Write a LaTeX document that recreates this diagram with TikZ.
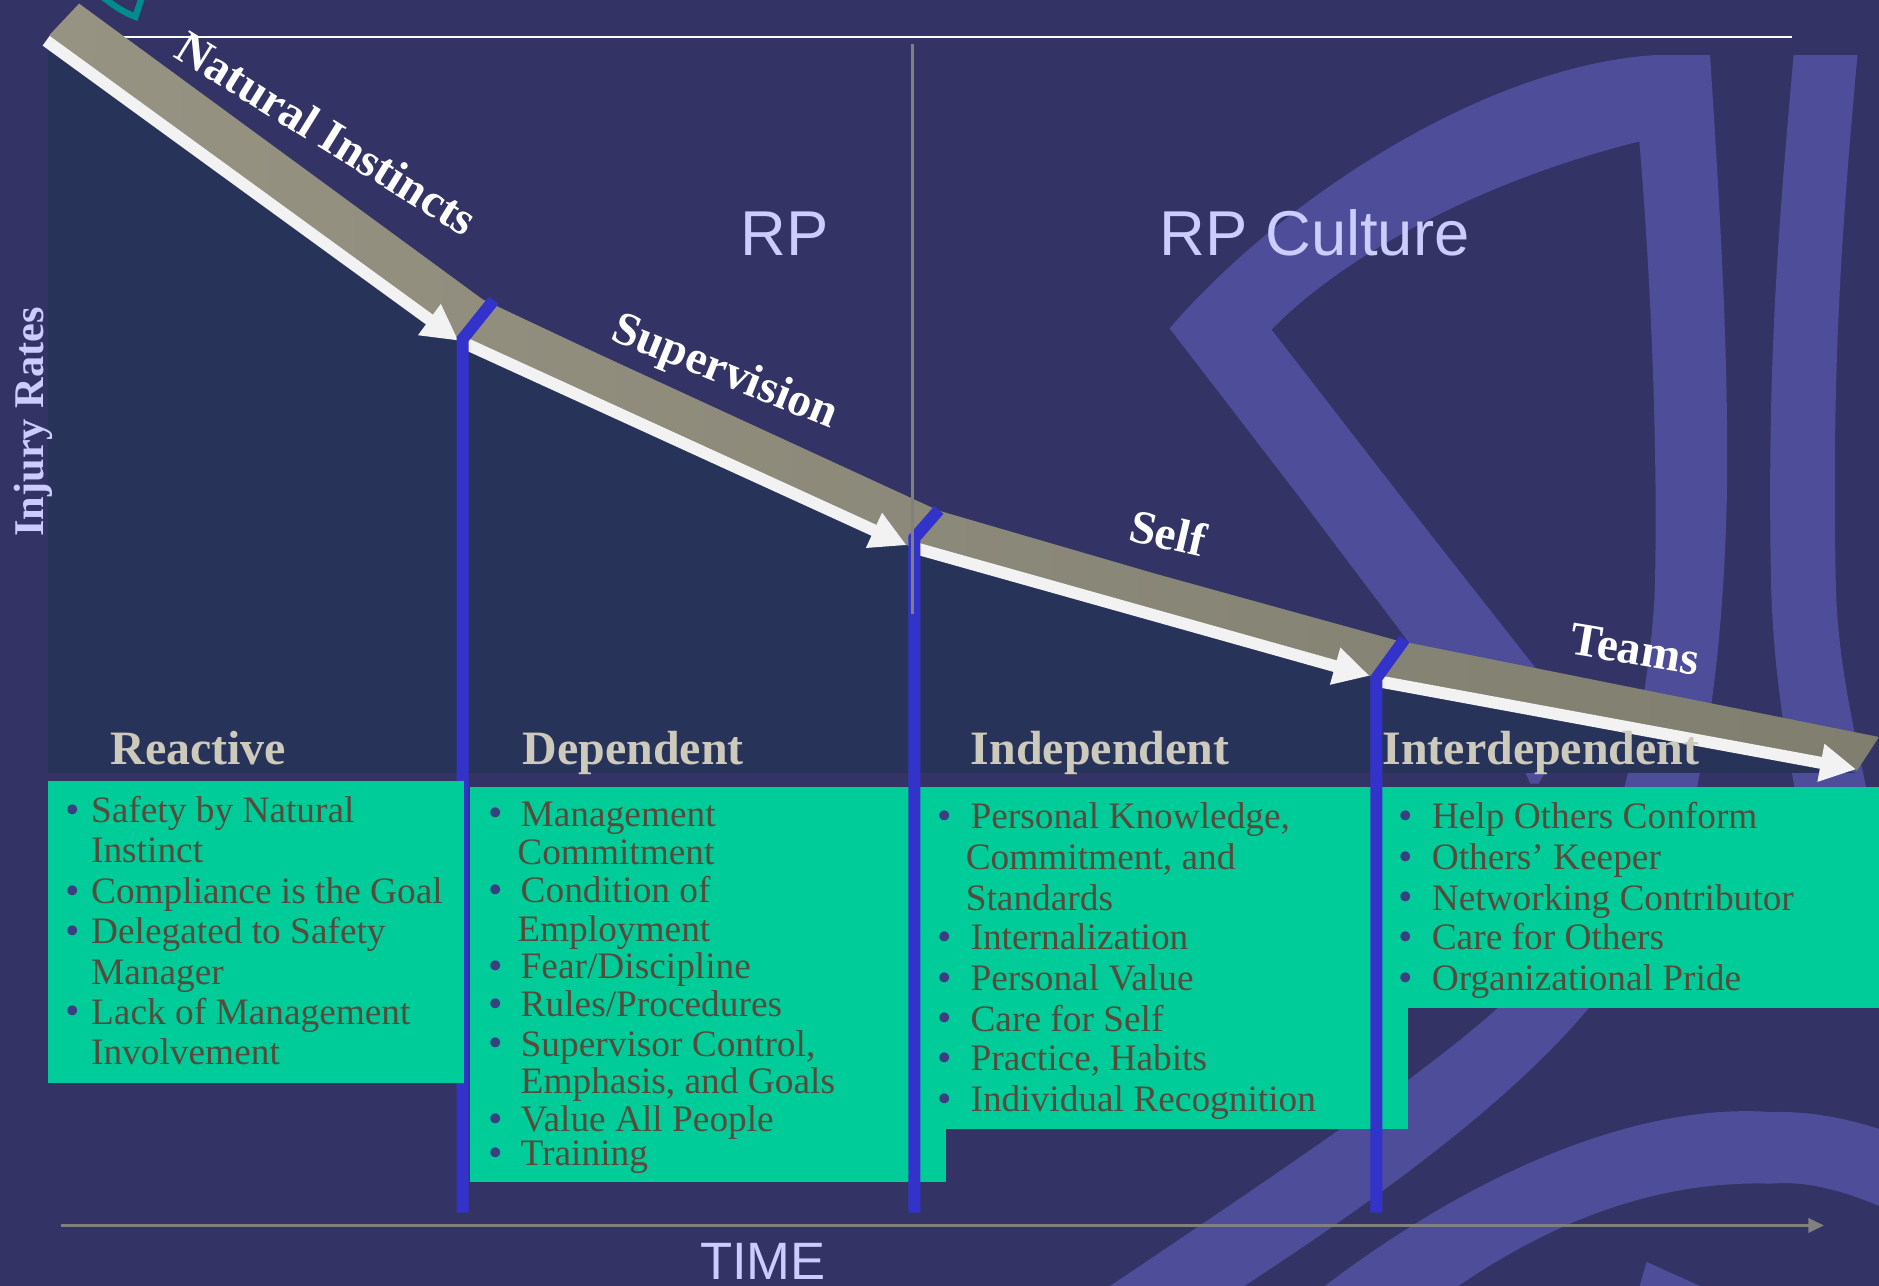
\documentclass[tikz,border=0pt]{standalone}
\usepackage{fontspec}
\setmainfont{Liberation Serif}
\newfontfamily\sansf{Liberation Sans}
\usetikzlibrary{arrows.meta}
\definecolor{bgc}{HTML}{333366}
\definecolor{decoc}{HTML}{4D4D99}
\definecolor{navyc}{HTML}{28335A}
\definecolor{tealbox}{HTML}{00CC99}
\definecolor{bluec}{HTML}{3333CC}
\definecolor{whitec}{HTML}{F2F2F2}
\definecolor{grayc}{HTML}{808080}
\definecolor{headc}{HTML}{CDCABB}
\definecolor{bodyc}{HTML}{574B3C}
\definecolor{bulc}{HTML}{3A3F82}
\definecolor{lilac}{HTML}{CCCCFF}
\definecolor{vee}{HTML}{008C8C}
\definecolor{bandL}{HTML}{979383}
\definecolor{bandR}{HTML}{7F7E6F}
\newcounter{tn}
\tikzset{
  deco/.style={fill=decoc},
  greenbox/.style={fill=tealbox},
  bodytext/.style={anchor=base west,inner sep=0pt,text=bodyc,font=\fontsize{28.05}{30}\selectfont},
  bullettext/.style={anchor=base,inner sep=0pt,text=bulc,font=\fontsize{31}{33}\selectfont},
  headtext/.style={anchor=base west,inner sep=0pt,text=headc,font=\fontsize{36}{40}\selectfont\bfseries},
  slopetext/.style={anchor=base west,inner sep=0pt,text=white,font=\fontsize{35.5}{40}\selectfont\bfseries},
  bigsans/.style={anchor=base west,inner sep=0pt,text=lilac,font=\fontsize{47.6}{50}\selectfont\sansf},
  slope/.style={draw=whitec,line width=9pt,-{Triangle[length=27pt,width=27pt]}},
  riser/.style={draw=bluec,line width=9pt,line join=miter},
}
\newcommand{\bodyline}[3]{\stepcounter{tn}\node[bodytext] (t\thetn) at (#1,#2+0.5) {#3};}
\newcommand{\bulline}[4]{\stepcounter{tn}\node[bullettext] (b\thetn) at (#1,#3+1) {•};\node[bodytext] (t\thetn) at (#2,#3+0.5) {#4};}
\begin{document}
\begin{tikzpicture}[x=0.9pt,y=-0.9pt]
\path[use as bounding box,clip] (0,0) rectangle (1568,1073.1);
\fill[bgc] (0,0) rectangle (1568,1073.1);
% background emblem
\fill[deco] (1380.6,46) .. controls (1240,55) and (1070,165) .. (976,274)
  -- (1086,417) -- (1190,555) -- (1285,562) -- (1171,417) -- (1061,275)
  .. controls (1125,210) and (1240,150) .. (1368,118)
  .. controls (1375,200) and (1384,350) .. (1381,490)
  .. controls (1378,560) and (1365,620) .. (1350,680)
  -- (1411,680)
  .. controls (1425,620) and (1438,540) .. (1441,417)
  .. controls (1443,300) and (1435,170) .. (1427,46)
  -- cycle;
\fill[deco] (1273,645) -- (1289,645) -- (1284,654) -- (1277,654) -- cycle;
\fill[deco] (1496.7,46) .. controls (1485,180) and (1474,300) .. (1478,490)
  .. controls (1480,560) and (1490,620) .. (1502,680) -- (1562,680)
  .. controls (1550,620) and (1534,560) .. (1532,490)
  .. controls (1528,300) and (1538,180) .. (1550,46) -- cycle;
\fill[deco] (1290,780) -- (1250,841) .. controls (1190,895) and (1080,970) .. (926.5,1073) -- (900,1090)
  -- (1020,1090) -- (1038.6,1073) .. controls (1150,1000) and (1260,920) .. (1326,841) -- (1370,770) -- cycle;
\fill[deco] (1090,1085) .. controls (1230,975) and (1370,920) .. (1478,928)
  .. controls (1510,927) and (1545,933) .. (1585,948) -- (1585,1014)
  .. controls (1545,995) and (1510,985) .. (1478,987.7)
  .. controls (1380,985) and (1290,1020) .. (1200,1085) -- cycle;
\fill[deco] (1374,1053) -- (1365,1085) -- (1445,1085) -- cycle;
% corner mark and rule
\draw[vee,line width=4.8pt,line join=miter] (84,-4) .. controls (95,5) and (103,10) .. (113,14) -- (119,-4);
\coordinate (ruleL) at (90,30.6);
\coordinate (ruleR) at (1495.7,30.6);
\draw[white,line width=1.6pt] (ruleL) -- (ruleR);
% area under the curve
\fill[navyc] (40,37) -- (386,287) -- (762,456) -- (1148,568) -- (1549,645) -- (40,645) -- cycle;
% slope coordinates
\coordinate (s0) at (38.5,34);
\coordinate (s1) at (382.6,284.3);
\coordinate (s1b) at (389,287);
\coordinate (s2) at (756.6,455);
\coordinate (s2b) at (766,458);
\coordinate (s3) at (1143,564);
\coordinate (s3b) at (1153,569);
\coordinate (s4) at (1549,642);
% thick band
\shade[left color=bandL,right color=bandR]
  (66,3) -- (403,250) -- (500.7,296) -- (783,426) -- (965,479) -- (1164,534) -- (1568,615) -- (1549,644)
  -- (s4) -- (s3b) -- (s3) -- (s2b) -- (s2) -- (s1b) -- (s1) -- (41.5,31) -- (41.5,29) -- cycle;
% slope arrows
\draw[slope] (s0) -- (s1);
\draw[slope] (s1b) -- (s2);
\draw[slope] (s2b) -- (s3);
\draw[slope] (s3b) -- (s4);
% text boxes
\fill[greenbox] (392,657) rectangle (789,986);
\fill[greenbox] (757,657) rectangle (1175,942);
\fill[greenbox] (1150,657) rectangle (1568,841);
% risers
\coordinate (r1a) at (386,1012); \coordinate (r1b) at (386,283); \coordinate (r1c) at (412,250.5);
\coordinate (r2a) at (763,1012); \coordinate (r2b) at (763,449); \coordinate (r2c) at (783.5,425.5);
\coordinate (r3a) at (1148.5,1012); \coordinate (r3b) at (1148.5,566); \coordinate (r3c) at (1172,533.5);
\draw[riser] (r1a) -- (r1b) -- (r1c);
\draw[riser] (r2a) -- (r2b) -- (r2c);
\draw[riser] (r3a) -- (r3b) -- (r3c);
\fill[greenbox] (40,652) rectangle (387,903.5);
% divider
\coordinate (divT) at (761.5,37);
\coordinate (divB) at (761.5,512);
\draw[grayc,line width=2.6pt] (divT) -- (divB);
% time axis
\coordinate (timeL) at (51,1022.6);
\coordinate (timeR) at (1522,1022.6);
\draw[grayc,line width=2pt,-{Triangle[length=11.7pt,width=10.8pt]}] (timeL) -- (timeR);
% labels
\node[slopetext,rotate=-31.8] (lbNat) at (144,47) {Natural Instincts};
\node[slopetext,rotate=-22] (lbSup) at (508,283) {Supervision};
\node[slopetext,rotate=-13] (lbSelf) at (940.5,450.7) {Self};
\node[slopetext,rotate=-9.5] (lbTeam) at (1308.5,545.5) {Teams};
\node[bigsans] (lbRP) at (617.5,212.9) {RP};
\node[bigsans] (lbCul) at (967.5,212.9) {RP Culture};
\node[bigsans,font=\fontsize{39.5}{41}\selectfont\sansf] (lbTime) at (584,1068) {TIME};
\node[anchor=base west,inner sep=0pt,rotate=90,text=lilac,font=\fontsize{31.8}{34}\selectfont\bfseries] (lbInj) at (36,448) {Injury Rates};
\node[headtext] (hA) at (92,638) {Reactive};
\node[headtext] (hB) at (436,638) {Dependent};
\node[headtext] (hC) at (810,638) {Independent};
\node[headtext] (hD) at (1153.5,638) {Interdependent};
% column 1
\bulline{61}{75.8}{686}{Safety by Natural}
\bodyline{75.8}{719}{Instinct}
\bulline{61}{75.8}{753.5}{Compliance is the Goal}
\bulline{61}{75.8}{787}{Delegated to Safety}
\bodyline{75.8}{821}{Manager}
\bulline{61}{75.8}{854}{Lack of Management}
\bodyline{75.8}{887.5}{Involvement}
% column 2
\bulline{414}{434.3}{689}{Management}
\bodyline{431.5}{721}{Commitment}
\bulline{414}{434.3}{753}{Condition of}
\bodyline{431.5}{785}{Employment}
\bulline{414}{434.3}{816}{Fear/Discipline}
\bulline{414}{434.3}{848}{Rules/Procedures}
\bulline{414}{434.3}{881}{Supervisor Control,}
\bodyline{434.3}{912}{Emphasis, and Goals}
\bulline{414}{434.3}{944}{Value All People}
\bulline{414}{434.3}{972}{Training}
% column 3
\bulline{788}{809.7}{691}{Personal Knowledge,}
\bodyline{805.7}{725}{Commitment, and}
\bodyline{805.7}{759}{Standards}
\bulline{788}{809.7}{792}{Internalization}
\bulline{788}{809.7}{826}{Personal Value}
\bulline{788}{809.7}{860}{Care for Self}
\bulline{788}{809.7}{893}{Practice, Habits}
\bulline{788}{809.7}{927}{Individual Recognition}
% column 4
\bulline{1173}{1194.6}{691}{Help Others Conform}
\bulline{1173}{1194.6}{725}{Others’ Keeper}
\bulline{1173}{1194.6}{759}{Networking Contributor}
\bulline{1173}{1194.6}{792}{Care for Others}
\bulline{1173}{1194.6}{826}{Organizational Pride}
\end{tikzpicture}
\end{document}
